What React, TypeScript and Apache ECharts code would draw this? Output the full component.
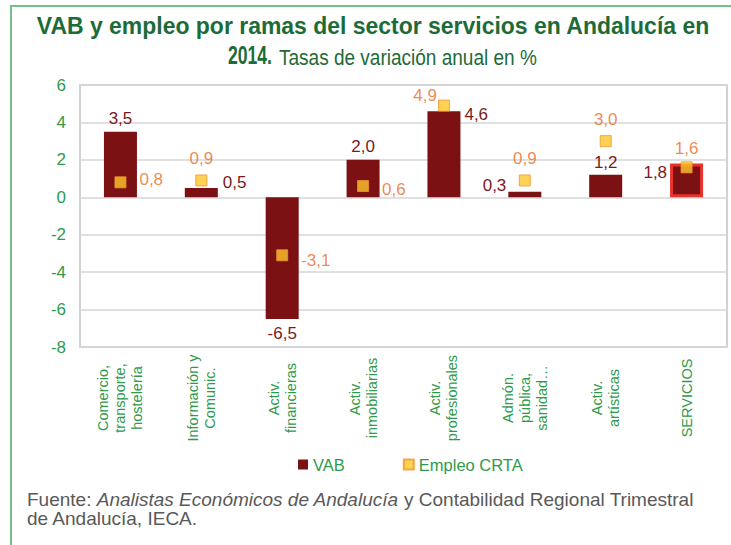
import React, { useEffect, useRef } from "react";
import * as echarts from "echarts";

const categories = [
  "Comercio,\ntransporte,\nhostelería",
  "Información y\nComunic.",
  "Activ.\nfinancieras",
  "Activ.\ninmobiliarias",
  "Activ.\nprofesionales",
  "Admón.\npública,\nsanidad…",
  "Activ.\nartísticas",
  "SERVICIOS",
];
const vabValues = [3.5, 0.5, -6.5, 2.0, 4.6, 0.3, 1.2, 1.8];
const empleoValues = [0.8, 0.9, -3.1, 0.6, 4.9, 0.9, 3.0, 1.6];
const yTicks = { min: -8, max: 6, interval: 2 };

const TITLE_LINE1 = "VAB y empleo por ramas del sector servicios en Andalucía en";
const TITLE_YEAR = "2014.";
const TITLE_SUB = "Tasas de variación anual en %";

const GREEN = "#2f9a4c";
const TITLE_GREEN = "#1d6b37";
const BAR = "#7b1113";
const VAB_LABEL = "#7a1a20";
const EMP_LABEL = "#ec6a26";
const FONT = "'Liberation Sans', Arial, sans-serif";
const TITLE_FONT = "bold 23px 'Liberation Sans', Arial, sans-serif";
const YEAR_FONT = "bold 26px 'Liberation Sans', Arial, sans-serif";
const SUB_FONT = "22px 'Liberation Sans', Arial, sans-serif";

const fmt = (v: number) => v.toFixed(1).replace(".", ",");

const vabLabelStyle: any[] = [
  { position: "top" },
  { position: "right", offset: [0, -10] },
  { position: "bottom", distance: 6 },
  { position: "top" },
  { position: ["100%", 0], align: "left", verticalAlign: "middle", offset: [4, 3] },
  { position: "left", distance: 2, offset: [0, -9] },
  { position: "top", distance: 4 },
  { position: "left", distance: 3, offset: [0, -8] },
];
const empLabelStyle: any[] = [
  { position: "right", distance: 13, offset: [0, -3] },
  { position: "top", distance: 7 },
  { position: "right", distance: 13, offset: [0, 5] },
  { position: "right", distance: 13, offset: [0, 3] },
  { position: "left", distance: 1, offset: [0, -10] },
  { position: "top", distance: 7 },
  { position: "top", distance: 7 },
  { position: "top", distance: 4 },
];

function measure(text: string, font: string): number {
  const c = document.createElement("canvas");
  const ctx = c.getContext("2d");
  if (!ctx) return text.length * 12;
  ctx.font = font;
  return ctx.measureText(text).width;
}

export default function App() {
  const ref = useRef<HTMLDivElement>(null);
  useEffect(() => {
    if (!ref.current) return;
    const chart = echarts.init(ref.current, null, { renderer: "svg" });
    const sx1 = 674 / measure(TITLE_LINE1, TITLE_FONT);
    const sxYear = 44 / measure(TITLE_YEAR, YEAR_FONT);
    const sxSub = 258 / measure(TITLE_SUB, SUB_FONT);
    const option: any = {
      animation: false,
      backgroundColor: "#ffffff",
      textStyle: { fontFamily: FONT },
      grid: {
        left: 80,
        right: 4,
        top: 85,
        bottom: 198,
        show: true,
        borderColor: "#c4c4c4",
        borderWidth: 1.5,
      },
      legend: {
        left: 293,
        top: 451,
        itemWidth: 10,
        itemHeight: 10,
        itemGap: 58,
        textStyle: { color: GREEN, fontSize: 16.5, fontFamily: FONT },
        data: [
          { name: "VAB", icon: "rect" },
          { name: "Empleo CRTA", icon: "rect" },
        ],
      },
      xAxis: {
        type: "category",
        data: categories,
        axisLine: { show: false },
        axisTick: { show: false },
        splitLine: { show: false },
        axisLabel: {
          interval: 0,
          rotate: 90,
          align: "center",
          verticalAlign: "middle",
          margin: 51,
          color: GREEN,
          fontSize: 14.5,
          lineHeight: 17,
          fontFamily: FONT,
        },
      },
      yAxis: {
        type: "value",
        min: yTicks.min,
        max: yTicks.max,
        interval: yTicks.interval,
        axisLine: { show: false },
        axisTick: { show: false },
        splitLine: { lineStyle: { color: "#d6d6d6", width: 1.5 } },
        axisLabel: { color: GREEN, fontSize: 17, margin: 14, fontFamily: FONT },
      },
      series: [
        {
          name: "VAB",
          type: "bar",
          barWidth: 33,
          itemStyle: { color: BAR },
          label: {
            show: true,
            color: VAB_LABEL,
            fontSize: 17,
            fontFamily: FONT,
            formatter: (p: any) => fmt(p.value),
          },
          data: vabValues.map((v, i) => ({
            value: v,
            label: vabLabelStyle[i],
            itemStyle:
              i === vabValues.length - 1
                ? { color: BAR, borderColor: "#e8322c", borderWidth: 3 }
                : undefined,
          })),
        },
        {
          name: "Empleo CRTA",
          type: "scatter",
          symbol: "rect",
          symbolSize: 11,
          z: 5,
          itemStyle: { color: "#ffc72c", borderColor: "#f0962a", borderWidth: 1 },
          label: {
            show: true,
            color: EMP_LABEL,
            fontSize: 17,
            fontFamily: FONT,
            formatter: (p: any) => fmt(p.value),
          },
          data: empleoValues.map((v, i) => ({ value: v, label: empLabelStyle[i] })),
        },
      ],
      graphic: [
        {
          type: "polyline",
          shape: { points: [[11, 545], [11, 6], [731, 6]] },
          style: { stroke: "#74c08b", lineWidth: 2, fill: null },
          silent: true,
        },
        {
          type: "text",
          x: 373,
          y: 26,
          scaleX: sx1,
          style: {
            text: TITLE_LINE1,
            fill: TITLE_GREEN,
            font: TITLE_FONT,
            align: "center",
            verticalAlign: "middle",
          },
        },
        {
          type: "text",
          x: 228,
          y: 55,
          scaleX: sxYear,
          style: {
            text: TITLE_YEAR,
            fill: TITLE_GREEN,
            font: YEAR_FONT,
            align: "left",
            verticalAlign: "middle",
          },
        },
        {
          type: "text",
          x: 279,
          y: 56.5,
          scaleX: sxSub,
          style: {
            text: TITLE_SUB,
            fill: TITLE_GREEN,
            font: SUB_FONT,
            align: "left",
            verticalAlign: "middle",
          },
        },
        {
          type: "text",
          left: 27,
          top: 490,
          style: {
            rich: {
              n: { fill: "#595959", fontSize: 19, fontFamily: FONT, lineHeight: 19 },
              i: { fill: "#595959", fontSize: 19, fontFamily: FONT, fontStyle: "italic", lineHeight: 19 },
            },
            text:
              "{n|Fuente: }{i|Analistas Económicos de Andalucía}{n| y Contabilidad Regional Trimestral}\n{n|de Andalucía, IECA.}",
          },
        },
      ],
    };
    chart.setOption(option);
    return () => chart.dispose();
  }, []);
  return (
    <div
      ref={ref}
      style={{ position: "fixed", left: 0, top: 0, width: 731, height: 545 }}
    />
  );
}
